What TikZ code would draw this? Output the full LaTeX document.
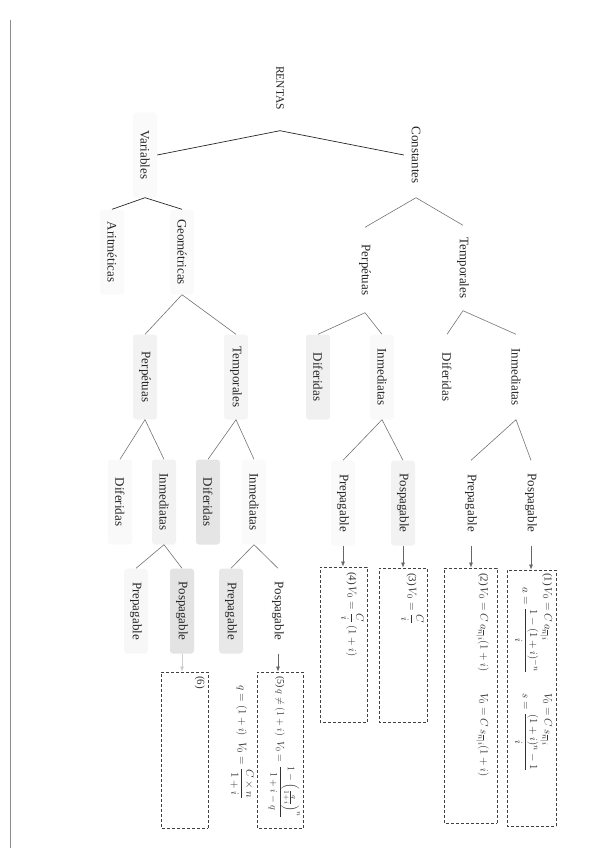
\documentclass[tikz,border=0pt]{standalone}
\usepackage{amsmath}
\usepackage{fontspec}
\setmainfont{Liberation Serif}
\usepackage{tikz}
\usetikzlibrary{arrows.meta}

\begin{document}
\begin{tikzpicture}[x=1pt,y=-1pt,>=Latex,
  cat/.style={rotate=-90,minimum width=85pt,minimum height=24pt,rounded corners=3pt,inner sep=2pt,text=black!85,font=\fontsize{13}{15}\selectfont},
  edge/.style={draw=black!55,line width=0.6pt},
  topedge/.style={draw=black!85,line width=0.7pt},
  formbox/.style={rotate=-90,draw=black!75,dash pattern=on 3pt off 2pt,line width=0.9pt,inner sep=0pt},
  formula/.style={rotate=-90,anchor=north west,inner sep=2pt,text=black!80,font=\fontsize{11}{13}\selectfont},
  link/.style={draw=black!60,line width=0.6pt,-{Latex[length=5pt,width=4pt]}}]
\useasboundingbox (0,0) rectangle (615,848);
% page edge of the scan
\draw[black!45,line width=1pt] (10,20) -- (10,848);

% tree
\node[cat,font=\fontsize{11.5}{13}\selectfont] (rentas) at (280,88) {RENTAS};
\node[cat,fill=gray!4] (var) at (145,155) {Variables};
\node[cat] (con) at (416,155) {Constantes};
\node[cat,fill=gray!4] (ari) at (112,252) {Aritméticas};
\node[cat,fill=gray!4] (geo) at (182,252) {Geométricas};
\node[cat] (cper) at (365,270) {Perpétuas};
\node[cat] (ctem) at (463,268) {Temporales};
\node[cat,fill=gray!10] (gper) at (145,377) {Perpétuas};
\node[cat,fill=gray!8] (gtem) at (236,377) {Temporales};
\node[cat,fill=gray!12] (cperdif) at (318,377) {Diferidas};
\node[cat,fill=gray!5] (cperinm) at (382,377) {Inmediatas};
\node[cat] (ctemdif) at (447,377) {Diferidas};
\node[cat] (ctemimm) at (516,377) {Inmediatas};
\node[cat,fill=gray!5] (gperdif) at (120,502) {Diferidas};
\node[cat,fill=gray!10] (gperinm) at (164,502) {Inmediatas};
\node[cat,fill=gray!20] (gtemdif) at (208,502) {Diferidas};
\node[cat,fill=gray!4] (gteminm) at (254,502) {Inmediatas};
\node[cat,fill=gray!4] (cperpre) at (343,503) {Prepagable};
\node[cat,fill=gray!10] (cperpos) at (403,503) {Pospagable};
\node[cat] (ctempre) at (471,503) {Prepagable};
\node[cat] (ctempos) at (531,503) {Pospagable};
\node[cat,fill=gray!6] (gppre) at (136,611) {Prepagable};
\node[cat,fill=gray!22] (gppos) at (182,611) {Pospagable};
\node[cat,fill=gray!18] (gtpre) at (231,611) {Prepagable};
\node[cat] (gtpos) at (278,611) {Pospagable};

\draw[topedge] (var.north) -- (rentas.east) -- (con.south);
\draw[topedge] (ari.west) -- (var.east) -- (geo.west);
\draw[edge] (cper.west) -- (con.east) -- (ctem.west);
\draw[edge] (gper.west) -- (geo.east) -- (gtem.west);
\draw[edge] (cperdif.west) -- (cper.east) -- (cperinm.west);
\draw[edge] (ctemdif.west) -- (ctem.east) -- (ctemimm.west);
\draw[edge] (gperdif.west) -- (gper.east) -- (gperinm.west);
\draw[edge] (gtemdif.west) -- (gtem.east) -- (gteminm.west);
\draw[edge] (cperpre.west) -- (cperinm.east) -- (cperpos.west);
\draw[edge] (ctempre.west) -- (ctemimm.east) -- (ctempos.west);
\draw[edge] (gppre.west) -- (gperinm.east) -- (gppos.west);
\draw[edge] (gtpre.west) -- (gteminm.east) -- (gtpos.west);

% formula boxes
\node[formbox,minimum width=256pt,minimum height=49pt] (box1) at (531.5,698) {};
\node[formbox,minimum width=255pt,minimum height=53pt] (box2) at (470.5,695.5) {};
\node[formbox,minimum width=154pt,minimum height=48pt] (box3) at (403,645) {};
\node[formbox,minimum width=155pt,minimum height=47pt] (box4) at (343.5,644.5) {};
\node[formbox,minimum width=156pt,minimum height=46pt] (box5) at (280,750) {};
\node[formbox,minimum width=156pt,minimum height=47pt] (box6) at (184.5,750) {};

\draw[link] (ctempos.east) -- (ctempos.east |- box1.west);
\draw[link] (ctempre.east) -- (ctempre.east |- box2.west);
\draw[link] (cperpos.east) -- (cperpos.east |- box3.west);
\draw[link] (cperpre.east) -- (cperpre.east |- box4.west);
\draw[link] (gtpos.east) -- (gtpos.east |- box5.west);
\draw[link,draw=black!20] (gppos.east) -- (gppos.east |- box6.west);

\node[formula] (f1) at (556,571) {%
  \begin{tabular}{@{}p{112pt}@{\hspace{8pt}}l@{}}
  (1)\,$V_0=C\,a_{\overline{n}|i}$ & $V_0=C\,s_{\overline{n}|i}$\\[2pt]
  \phantom{(1)}\,$a=\dfrac{1-(1+i)^{-n}}{i}$ & $s=\dfrac{(1+i)^{n}-1}{i}$
  \end{tabular}};
\node[formula] (f2) at (492,571) {%
  \begin{tabular}{@{}p{112pt}@{\hspace{8pt}}l@{}}
  (2)\,$V_0=C\,a_{\overline{n}|i}(1+i)$ & $V_0=C\,s_{\overline{n}|i}(1+i)$
  \end{tabular}};
\node[formula] (f3) at (426,571) {(3)\,$V_0=\dfrac{C}{i}$};
\node[formula] (f4) at (366,570) {(4)\,$V_0=\dfrac{C}{i}\,(1+i)$};
\node[formula,font=\fontsize{10}{12}\selectfont] (f5) at (302,674) {(5)\,$q\neq(1+i)\;\;V_0=\dfrac{1-\left(\tfrac{q}{1+i}\right)^{n}}{1+i-q}$};
\node[formula] (f5b) at (256,683) {$q=(1+i)\;\;V_0=\dfrac{C\times n}{1+i}$};
\node[formula] (f6) at (207,674) {(6)};
\end{tikzpicture}
\end{document}
